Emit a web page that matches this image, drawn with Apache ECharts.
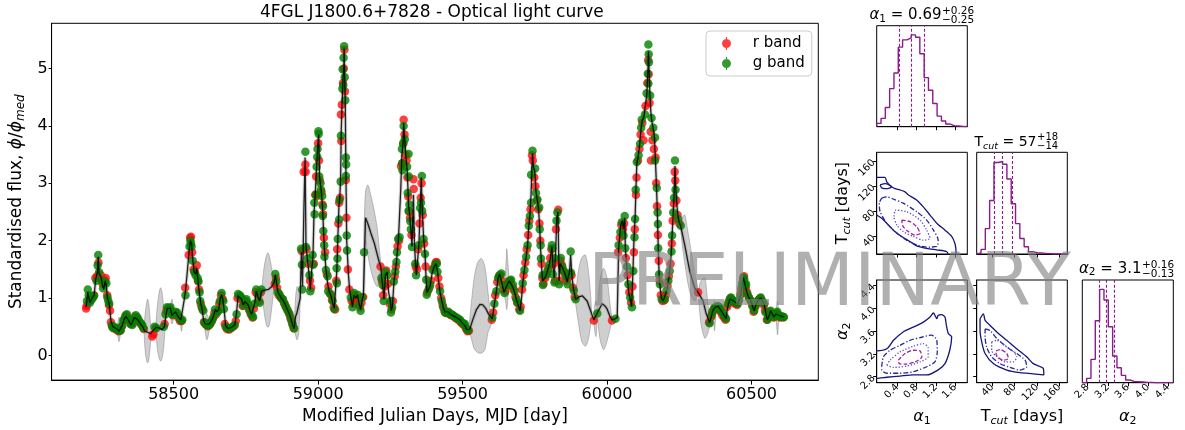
<!DOCTYPE html>
<html><head><meta charset="utf-8">
<script src="https://cdn.jsdelivr.net/npm/echarts@6/dist/echarts.min.js"></script>
<style>html,body{margin:0;padding:0;background:#fff}#c{width:1185px;height:430px}</style>
</head><body><div id="c"></div>
<script>
// ---------------- DATA ----------------
const xTicks = [58500, 59000, 59500, 60000, 60500];
const yTicks = [0, 1, 2, 3, 4, 5];

// r band observations [MJD, flux/median]
const rBand = [[58197,0.82],[58199,0.86],[58208,0.95],[58216,0.98],[58224,1.05],[58229,1.35],[58235,1.38],[58240,1.62],[58248,1.40],[58254,1.25],[58260,1.32],[58265,1.35],[58270,1.05],[58276,0.88],[58280,0.78],[58283,0.58],[58288,0.50],[58296,0.47],[58302,0.45],[58309,0.42],[58315,0.43],[58320,0.50],[58328,0.62],[58335,0.70],[58344,0.62],[58350,0.55],[58359,0.56],[58366,0.68],[58373,0.65],[58382,0.58],[58389,0.53],[58397,0.46],[58426,0.33],[58430,0.37],[58437,0.47],[58469,0.55],[58475,0.78],[58480,0.82],[58487,0.80],[58497,0.70],[58504,0.74],[58510,0.72],[58516,0.66],[58522,0.60],[58528,0.60],[58540,1.18],[58552,1.75],[58557,2.05],[58560,2.07],[58564,1.80],[58569,1.50],[58574,1.45],[58580,1.57],[58584,1.30],[58588,1.15],[58594,0.90],[58600,0.80],[58605,0.58],[58612,0.54],[58618,0.51],[58624,0.53],[58630,0.58],[58636,0.64],[58641,0.74],[58647,0.72],[58653,0.77],[58658,0.90],[58664,1.05],[58670,0.98],[58677,0.55],[58684,0.46],[58692,0.45],[58700,0.48],[58708,0.51],[58715,0.60],[58721,1.00],[58727,1.03],[58733,0.98],[58739,0.86],[58744,0.92],[58750,0.95],[58756,0.88],[58761,0.80],[58767,0.72],[58773,0.66],[58778,0.82],[58784,1.10],[58790,1.07],[58796,0.95],[58802,1.10],[58850,1.25],[58854,1.35],[58858,1.18],[58864,1.05],[58870,1.02],[58876,0.98],[58882,0.92],[58887,0.86],[58893,0.80],[58899,0.74],[58904,0.66],[58910,0.56],[58915,0.48],
[58943,1.82],[58950,3.20],[58956,3.33],[58957,3.20],[58960,1.85],[58966,1.60],[58972,1.30],[58976,1.18],[58985,1.60],[58990,2.80],[58993,3.12],[58996,2.78],[59000,3.70],[59003,3.40],[59006,3.05],[59012,2.85],[59015,2.63],[59017,2.46],[59020,2.05],[59024,1.80],[59030,1.42],[59036,1.20],[59041,1.08],[59048,0.97],[59054,0.84],[59059,0.80],[59063,1.30],[59066,1.85],[59070,2.30],[59073,2.66],[59076,2.75],[59079,4.20],[59080,3.74],[59082,4.37],[59086,4.75],[59089,5.00],[59091,5.33],[59093,4.60],[59096,3.06],[59098,2.40],[59103,1.50],[59108,1.15],[59116,0.95],[59122,0.90],[59127,1.05],[59133,1.02],[59139,0.98],[59145,0.84],[59150,0.92],[59156,1.02],
[59216,1.55],[59221,1.30],[59225,1.05],[59230,1.20],[59236,1.48],[59242,1.25],[59248,0.90],[59254,0.80],[59259,0.95],[59265,1.38],[59269,1.55],[59275,1.90],[59280,2.00],[59287,3.30],[59292,3.35],[59295,3.70],[59296,4.11],[59299,3.85],[59303,3.50],[59306,3.40],[59309,3.10],[59312,2.77],[59315,2.51],[59318,2.40],[59323,2.10],[59330,3.07],[59331,2.90],[59338,1.55],[59342,1.50],[59346,1.85],[59351,2.30],[59355,2.75],[59358,3.00],[59362,2.45],[59367,1.95],[59372,1.55],[59378,1.10],[59385,1.18],[59391,1.30],[59399,1.52],[59407,1.62],[59410,1.63],[59416,1.35],[59420,1.20],[59426,1.00],[59431,0.88],[59437,0.78],[59443,0.74],[59449,0.75],[59455,0.73],[59460,0.70],[59466,0.70],[59471,0.68],[59477,0.65],[59483,0.63],[59489,0.61],[59494,0.58],[59500,0.55],[59506,0.52],[59512,0.47],[59517,0.42],[59522,0.43],
[59601,0.62],[59606,0.75],[59613,1.05],[59620,1.28],[59626,1.38],[59631,1.40],[59636,1.30],[59641,1.15],[59648,1.12],[59654,1.25],[59660,1.28],[59665,1.30],[59671,1.20],[59677,1.15],[59683,1.02],[59689,0.92],[59696,0.80],[59701,0.85],[59706,1.15],[59711,1.40],[59717,1.62],[59722,1.85],[59727,2.10],[59731,2.35],[59735,2.55],[59740,3.49],[59743,3.40],[59748,3.10],[59752,2.95],[59757,2.70],[59762,2.55],[59766,2.30],[59769,2.00],[59773,1.60],[59776,1.35],[59780,1.25],[59786,1.35],[59791,1.42],[59797,1.52],[59803,1.70],[59807,1.85],
[59815,1.60],[59820,1.30],[59823,2.20],[59831,2.54],[59836,1.30],[59838,1.65],[59843,1.58],[59848,1.48],[59854,1.43],[59860,1.30],[59864,1.35],[59869,1.42],[59877,1.40],[59882,1.18],[59888,1.02],[59954,0.61],[60017,0.61],[60038,1.80],[60044,2.05],[60049,2.28],[60055,2.20],[60059,2.30],[60065,1.70],[60071,1.40],[60077,1.10],[60083,0.92],[60088,1.20],[60093,1.80],[60096,2.20],[60100,2.80],[60102,3.10],[60107,3.40],[60112,3.60],[60116,3.85],[60122,4.05],[60126,3.75],[60133,4.35],[60139,4.75],[60142,5.15],[60144,4.90],[60147,4.40],[60151,3.90],[60152,3.40],[60157,3.75],[60162,3.60],[60168,3.45],[60170,3.00],[60173,2.60],[60176,2.10],[60179,1.65],[60182,1.30],[60186,1.05],[60192,0.95],[60198,0.96],[60203,1.05],[60209,1.22],[60214,1.38],[60220,1.60],[60224,1.95],[60227,2.35],[60231,2.65],[60234,3.20],[60236,3.05],[60240,2.70],[60244,2.45],[60250,2.30],[60315,1.10],[60353,0.58],[60360,0.67],[60364,0.75],[60370,0.82],[60376,0.80],[60382,0.85],[60387,0.82],[60393,0.76],[60399,0.70],[60405,0.66],[60410,0.62],[60416,0.85],[60422,0.95],[60427,1.00],[60433,0.95],[60439,0.92],[60444,0.90],[60450,0.88],[60455,0.95],[60461,1.05],[60464,1.15],[60468,1.25],[60471,1.33],[60474,1.38],[60477,1.25],[60480,1.18],[60484,1.10],[60490,1.02],[60496,0.96],[60502,0.88],[60507,0.76],[60513,0.85],[60519,0.93],[60525,0.97],[60530,1.00],[60536,0.94],[60542,0.88],[60547,0.78],[60553,0.62],[60558,0.66],[60564,0.76],[60570,0.72],[60576,0.66],[60582,0.70],[60587,0.74],[60593,0.70],[60599,0.66],[60604,0.68],[60610,0.66]];

// g band observations [MJD, flux/median]
const gBand = [[58200,0.95],[58203,1.15],[58206,1.05],[58210,0.92],[58214,0.96],[58220,1.00],[58225,1.04],[58233,1.30],[58237,1.57],[58239,1.75],[58242,1.45],[58252,1.30],[58256,1.17],[58262,1.28],[58267,1.26],[58271,1.01],[58274,0.95],[58277,0.90],[58286,0.52],[58290,0.48],[58294,0.50],[58300,0.47],[58306,0.46],[58311,0.43],[58317,0.44],[58322,0.52],[58326,0.61],[58332,0.68],[58338,0.72],[58342,0.65],[58346,0.61],[58352,0.55],[58357,0.53],[58362,0.62],[58369,0.70],[58375,0.66],[58380,0.61],[58386,0.56],[58391,0.53],[58395,0.48],[58434,0.50],[58440,0.48],[58466,0.50],[58472,0.72],[58477,0.84],[58483,0.82],[58489,0.84],[58494,0.72],[58500,0.72],[58506,0.76],[58512,0.75],[58518,0.68],[58525,0.61],[58530,0.62],[58541,1.05],[58555,1.90],[58558,2.00],[58560,1.95],[58562,1.90],[58566,1.65],[58571,1.46],[58576,1.40],[58583,1.35],[58586,1.29],[58590,1.10],[58592,0.95],[58597,0.84],[58603,0.78],[58607,0.58],[58610,0.55],[58615,0.53],[58620,0.52],[58626,0.55],[58632,0.60],[58638,0.67],[58643,0.80],[58649,0.75],[58655,0.78],[58660,0.95],[58666,1.09],[58672,0.95],[58674,0.81],[58680,0.50],[58688,0.47],[58695,0.47],[58703,0.50],[58712,0.53],[58718,0.72],[58723,1.07],[58729,1.05],[58735,1.01],[58741,0.87],[58746,0.95],[58752,0.98],[58758,0.90],[58763,0.78],[58769,0.72],[58775,0.67],[58780,0.90],[58786,1.15],[58792,1.05],[58798,0.92],[58804,1.15],[58852,1.42],[58855,1.29],[58860,1.10],[58866,1.07],[58872,1.00],[58878,0.98],[58884,0.90],[58889,0.84],[58895,0.78],[58901,0.72],[58906,0.62],[58912,0.53],[58917,0.47],
[58941,1.86],[58945,1.15],[58944,1.58],[58956,3.55],[58958,1.89],[58964,1.69],[58970,1.40],[58973,1.12],[58981,1.75],[58983,1.58],[58987,2.66],[58988,2.46],[58992,2.80],[58995,3.29],[58997,3.46],[58998,3.60],[59001,3.91],[59002,3.86],[59004,3.12],[59008,3.00],[59010,2.89],[59014,2.78],[59016,2.43],[59017,2.60],[59018,2.17],[59021,1.92],[59022,1.72],[59027,1.49],[59033,1.38],[59035,1.12],[59044,1.06],[59050,0.95],[59056,0.81],[59064,1.52],[59065,1.26],[59067,1.69],[59068,2.03],[59073,2.37],[59074,2.71],[59078,3.03],[59079,3.83],[59084,4.65],[59085,4.99],[59087,4.71],[59088,5.19],[59090,5.39],[59092,4.85],[59094,4.45],[59096,3.45],[59097,3.33],[59096,3.13],[59099,2.09],[59100,1.83],[59113,1.01],[59119,0.84],[59124,1.09],[59136,1.06],[59142,0.89],[59147,0.78],[59153,1.01],[59159,1.80],
[59219,1.35],[59223,1.23],[59227,0.95],[59233,1.46],[59239,1.40],[59250,0.95],[59252,0.75],[59256,0.84],[59262,1.29],[59267,1.46],[59271,1.63],[59273,1.80],[59277,2.03],[59282,2.06],[59290,3.60],[59291,3.35],[59292,3.23],[59294,3.69],[59296,4.00],[59300,3.77],[59308,3.29],[59310,2.83],[59313,3.51],[59314,3.12],[59313,2.52],[59316,2.63],[59319,2.34],[59321,2.20],[59325,1.89],[59336,1.60],[59339,1.40],[59348,1.92],[59353,2.57],[59356,2.66],[59359,3.13],[59360,2.52],[59365,2.03],[59370,1.77],[59374,1.32],[59376,1.06],[59382,1.15],[59388,1.23],[59396,1.49],[59405,1.58],[59411,1.60],[59413,1.46],[59422,1.12],[59428,0.95],[59433,0.84],[59439,0.75],[59445,0.74],[59451,0.76],[59457,0.72],[59462,0.72],[59468,0.69],[59473,0.67],[59479,0.66],[59485,0.64],[59491,0.62],[59496,0.58],[59502,0.56],[59508,0.55],[59514,0.46],[59519,0.44],
[59603,0.66],[59610,0.90],[59617,1.12],[59623,1.35],[59628,1.40],[59634,1.43],[59639,1.23],[59645,1.09],[59657,1.23],[59662,1.30],[59668,1.32],[59674,1.23],[59680,1.12],[59686,0.98],[59691,0.92],[59699,0.78],[59708,1.26],[59714,1.49],[59720,1.72],[59725,1.92],[59729,2.26],[59733,2.43],[59737,2.66],[59737,3.15],[59742,3.57],[59751,3.26],[59754,2.83],[59759,2.72],[59765,2.58],[59767,2.20],[59770,1.92],[59771,1.69],[59777,1.40],[59778,1.23],[59788,1.40],[59794,1.48],[59800,1.58],[59809,1.92],
[59811,1.87],[59813,1.41],[59817,1.70],[59818,1.27],[59825,2.35],[59828,2.49],[59834,1.24],[59840,1.70],[59845,1.55],[59851,1.47],[59857,1.38],[59863,1.24],[59866,1.41],[59874,1.81],[59875,1.44],[59885,1.13],[59891,0.98],[59966,0.73],[60029,0.64],[60040,1.92],[60046,2.15],[60051,2.32],[60057,2.09],[60061,2.43],[60063,1.87],[60069,1.55],[60074,1.24],[60080,1.01],[60086,0.84],[60091,1.47],[60095,2.06],[60097,2.38],[60099,2.89],[60103,3.37],[60109,3.49],[60114,3.69],[60118,3.97],[60120,4.11],[60131,4.20],[60137,4.57],[60141,4.91],[60143,5.42],[60144,5.25],[60145,5.11],[60143,4.74],[60149,4.53],[60154,4.14],[60160,3.97],[60166,3.80],[60166,3.40],[60172,2.92],[60175,2.49],[60176,2.29],[60177,1.87],[60180,1.41],[60183,1.24],[60189,0.98],[60200,0.98],[60206,1.13],[60212,1.30],[60217,1.47],[60223,1.81],[60225,2.09],[60229,2.49],[60232,2.75],[60235,3.40],[60237,2.89],[60246,2.38],[60255,2.26],[60355,0.56],[60362,0.70],[60366,0.78],[60372,0.83],[60378,0.84],[60384,0.86],[60389,0.84],[60395,0.78],[60401,0.73],[60407,0.68],[60412,0.64],[60418,0.90],[60425,0.98],[60429,1.01],[60435,0.96],[60441,0.95],[60446,0.92],[60452,0.90],[60457,0.97],[60463,1.07],[60466,1.20],[60469,1.27],[60472,1.36],[60475,1.32],[60478,1.22],[60481,1.24],[60486,1.07],[60492,1.00],[60498,0.95],[60504,0.85],[60509,0.78],[60515,0.88],[60521,0.95],[60527,0.98],[60532,1.01],[60538,0.95],[60544,0.90],[60549,0.75],[60555,0.62],[60560,0.68],[60566,0.78],[60572,0.72],[60578,0.67],[60584,0.72],[60589,0.76],[60595,0.70],[60601,0.67],[60606,0.68],[60612,0.67]];

// GP mean curve [MJD, flux]
const gpCurve = [[58197,0.84],[58203,1.10],[58210,0.92],[58218,1.00],[58225,1.05],[58230,1.32],[58236,1.45],[58239,1.72],[58242,1.42],[58248,1.38],[58254,1.22],[58258,1.15],[58263,1.30],[58267,1.22],[58271,1.00],[58277,0.90],[58280,0.76],[58283,0.60],[58290,0.50],[58297,0.48],[58304,0.46],[58311,0.42],[58317,0.45],[58322,0.52],[58328,0.62],[58334,0.68],[58338,0.70],[58343,0.62],[58348,0.57],[58353,0.53],[58358,0.55],[58364,0.66],[58369,0.68],[58375,0.63],[58381,0.58],[58387,0.55],[58393,0.50],[58399,0.43],[58405,0.41],[58412,0.40],[58420,0.38],[58426,0.36],[58432,0.45],[58440,0.49],[58450,0.48],[58460,0.45],[58468,0.50],[58474,0.72],[58478,0.82],[58483,0.80],[58489,0.82],[58494,0.70],[58500,0.72],[58506,0.76],[58512,0.74],[58518,0.66],[58525,0.62],[58530,0.65],[58536,0.95],[58541,1.12],[58548,1.50],[58554,1.85],[58558,2.00],[58562,1.95],[58566,1.68],[58571,1.46],[58576,1.42],[58580,1.52],[58584,1.30],[58590,1.05],[58594,0.90],[58599,0.80],[58604,0.60],[58610,0.55],[58616,0.52],[58622,0.54],[58628,0.58],[58634,0.63],[58640,0.72],[58645,0.80],[58650,0.76],[58656,0.80],[58661,0.98],[58666,1.06],[58671,0.95],[58675,0.78],[58680,0.52],[58688,0.47],[58696,0.48],[58704,0.50],[58712,0.54],[58718,0.75],[58723,1.04],[58729,1.02],[58735,0.98],[58741,0.88],[58746,0.94],[58752,0.96],[58758,0.88],[58764,0.78],[58770,0.72],[58776,0.70],[58781,0.92],[58786,1.12],[58792,1.02],[58798,0.95],[58804,1.12],[58815,1.14],[58828,1.15],[58840,1.20],[58848,1.28],[58852,1.40],[58856,1.26],[58861,1.10],[58867,1.05],[58873,1.00],[58879,0.96],[58885,0.90],[58890,0.84],[58896,0.77],[58902,0.70],[58907,0.62],[58912,0.53],[58917,0.47],[58922,0.68],[58926,0.73],[58932,0.70],[58938,1.00],[58942,1.80],[58946,1.20],[58951,2.60],[58955,3.45],[58958,1.90],[58963,1.68],[58968,1.45],[58973,1.15],[58978,1.50],[58982,1.70],[58986,2.50],[58990,2.80],[58995,3.30],[59000,3.75],[59002,3.85],[59005,3.10],[59009,2.95],[59013,2.75],[59016,2.50],[59019,2.15],[59022,1.85],[59027,1.50],[59033,1.25],[59039,1.10],[59044,1.05],[59050,0.92],[59056,0.82],[59061,1.20],[59065,1.50],[59068,2.00],[59072,2.60],[59075,2.75],[59078,3.10],[59080,3.90],[59083,4.40],[59086,4.80],[59089,5.05],[59090,5.35],[59092,4.85],[59094,4.40],[59096,3.30],[59099,2.00],[59105,1.40],[59110,1.10],[59114,1.00],[59119,0.85],[59124,1.05],[59130,1.00],[59136,1.05],[59142,0.90],[59147,0.80],[59153,0.98],[59157,1.05],[59164,2.40],[59172,2.30],[59182,2.14],[59195,1.95],[59205,1.75],[59212,1.62],[59217,1.55],[59220,1.35],[59224,1.20],[59228,0.98],[59233,1.40],[59239,1.45],[59244,1.10],[59250,0.95],[59253,0.78],[59257,0.85],[59262,1.25],[59267,1.45],[59271,1.62],[59274,1.80],[59278,2.02],[59282,2.05],[59286,2.90],[59290,3.50],[59294,3.70],[59296,4.05],[59300,3.75],[59304,3.45],[59308,3.25],[59311,2.90],[59313,2.60],[59317,2.45],[59320,2.25],[59325,1.90],[59330,2.80],[59333,2.00],[59337,1.60],[59340,1.40],[59345,1.70],[59349,1.95],[59353,2.55],[59357,3.10],[59360,2.60],[59365,2.05],[59370,1.77],[59374,1.30],[59377,1.10],[59382,1.15],[59388,1.22],[59395,1.45],[59402,1.55],[59408,1.60],[59413,1.48],[59418,1.25],[59422,1.10],[59428,0.95],[59433,0.84],[59439,0.76],[59445,0.74],[59451,0.76],[59457,0.72],[59462,0.73],[59468,0.69],[59473,0.67],[59479,0.66],[59485,0.63],[59491,0.62],[59496,0.58],[59502,0.56],[59508,0.52],[59514,0.45],[59519,0.44],[59525,0.46],[59535,0.62],[59548,0.80],[59560,0.89],[59570,0.88],[59580,0.82],[59590,0.72],[59603,0.64],[59610,0.90],[59617,1.12],[59623,1.35],[59628,1.42],[59633,1.40],[59638,1.22],[59643,1.10],[59650,1.18],[59657,1.26],[59662,1.30],[59668,1.28],[59673,1.20],[59680,1.10],[59686,0.98],[59691,0.90],[59699,0.78],[59704,1.00],[59708,1.25],[59714,1.50],[59720,1.72],[59725,1.92],[59729,2.25],[59733,2.45],[59737,2.80],[59740,3.30],[59742,3.52],[59745,3.30],[59750,3.20],[59754,2.85],[59759,2.70],[59763,2.55],[59767,2.20],[59770,1.85],[59774,1.50],[59777,1.30],[59782,1.28],[59788,1.38],[59794,1.48],[59800,1.58],[59805,1.75],[59809,1.90],[59813,1.55],[59817,1.35],[59822,1.80],[59826,2.40],[59830,2.50],[59834,1.30],[59838,1.60],[59842,1.62],[59847,1.52],[59852,1.45],[59857,1.38],[59862,1.28],[59866,1.38],[59870,1.45],[59874,1.75],[59878,1.40],[59884,1.15],[59891,0.98],[59902,1.02],[59914,1.04],[59931,0.95],[59943,0.78],[59954,0.62],[59960,0.68],[59966,0.74],[59971,0.79],[59983,0.90],[59993,0.86],[60000,0.81],[60010,0.68],[60017,0.62],[60024,0.63],[60029,0.64],[60035,0.66],[60040,1.85],[60044,2.10],[60048,2.28],[60053,2.35],[60057,2.20],[60061,2.40],[60063,1.90],[60067,1.60],[60071,1.30],[60075,1.10],[60080,0.98],[60085,0.85],[60089,1.40],[60093,2.00],[60097,2.40],[60100,2.90],[60103,3.35],[60107,3.45],[60111,3.60],[60115,3.80],[60118,3.97],[60122,4.10],[60127,4.15],[60131,4.18],[60135,4.45],[60138,4.60],[60141,4.90],[60143,5.30],[60145,5.05],[60148,4.55],[60152,4.20],[60156,4.05],[60160,3.95],[60164,3.80],[60167,3.45],[60171,2.95],[60174,2.50],[60177,1.90],[60180,1.42],[60183,1.22],[60188,1.00],[60194,0.95],[60200,0.98],[60206,1.12],[60212,1.30],[60217,1.48],[60222,1.78],[60225,2.10],[60229,2.50],[60232,2.80],[60235,3.30],[60238,2.90],[60242,2.60],[60246,2.40],[60251,2.30],[60255,2.25],[60269,1.92],[60286,1.47],[60303,1.18],[60315,1.10],[60332,0.95],[60343,0.73],[60355,0.57],[60362,0.70],[60366,0.78],[60372,0.83],[60378,0.84],[60384,0.86],[60389,0.84],[60395,0.78],[60401,0.73],[60407,0.68],[60412,0.64],[60416,0.80],[60420,0.90],[60425,0.98],[60429,1.01],[60435,0.96],[60441,0.94],[60446,0.92],[60452,0.88],[60457,0.97],[60463,1.07],[60466,1.20],[60469,1.28],[60472,1.35],[60475,1.30],[60478,1.22],[60481,1.20],[60486,1.06],[60492,1.00],[60498,0.95],[60504,0.85],[60509,0.78],[60515,0.88],[60521,0.95],[60527,0.98],[60532,1.00],[60538,0.95],[60544,0.88],[60549,0.75],[60555,0.62],[60560,0.68],[60566,0.78],[60572,0.72],[60578,0.67],[60584,0.72],[60589,0.75],[60595,0.70],[60601,0.67],[60606,0.68],[60612,0.67]];

// GP uncertainty band in observing gaps: [MJD, lower, upper]
const gpBands = [
 [[58302,0.45,0.47],[58307,0.34,0.58],[58311,0.24,0.67],[58315,0.34,0.58],[58319,0.46,0.50]],
 [[58397,0.45,0.48],[58402,0.05,0.75],[58407,-0.10,0.93],[58410,-0.13,0.98],[58414,-0.08,0.90],[58418,0.10,0.68],[58422,0.33,0.40]],
 [[58438,0.46,0.50],[58444,0.10,0.88],[58450,-0.05,1.10],[58455,-0.10,1.18],[58460,-0.05,1.10],[58466,0.15,0.85],[58472,0.62,0.78]],
 [[58488,0.80,0.85],[58492,0.58,0.95],[58495,0.55,0.98],[58499,0.65,0.80]],
 [[58523,0.60,0.63],[58527,0.42,0.72],[58531,0.58,0.70]],
 [[58605,0.56,0.60],[58611,0.35,0.68],[58615,0.27,0.72],[58620,0.35,0.66],[58626,0.53,0.57]],
 [[58805,1.10,1.16],[58812,0.80,1.50],[58820,0.55,1.72],[58826,0.49,1.79],[58832,0.55,1.72],[58840,0.85,1.50],[58848,1.22,1.32]],
 [[58917,0.45,0.50],[58922,0.35,1.00],[58927,0.27,1.20],[58932,0.35,1.12],[58937,0.80,1.10]],
 [[59156,0.98,1.10],[59160,1.50,2.30],[59164,2.00,2.85],[59172,1.75,2.97],[59182,1.50,2.80],[59195,1.28,2.50],[59205,1.20,2.20],[59212,1.35,1.85],[59217,1.50,1.60]],
 [[59522,0.43,0.48],[59530,0.30,0.90],[59540,0.12,1.35],[59552,0.05,1.62],[59565,0.04,1.69],[59577,0.10,1.55],[59588,0.40,1.10],[59596,0.50,0.78],[59603,0.60,0.67]],
 [[59645,1.05,1.12],[59650,0.90,1.60],[59653,0.80,1.86],[59657,1.00,1.60],[59661,1.25,1.32]],
 [[59890,0.95,1.00],[59900,0.60,1.45],[59912,0.25,1.70],[59925,0.16,1.75],[59936,0.30,1.45],[59945,0.65,0.90]],
 [[59954,0.60,0.63],[59958,0.40,0.90],[59962,0.33,0.95],[59966,0.70,0.76]],
 [[59966,0.72,0.76],[59975,0.30,1.30],[59988,0.10,1.52],[60000,0.25,1.35],[60010,0.45,0.90],[60017,0.60,0.64]],
 [[60255,2.20,2.30],[60262,1.85,2.42],[60269,1.60,2.45],[60280,1.25,2.15],[60290,1.05,1.85],[60303,0.95,1.45],[60315,1.05,1.15]],
 [[60316,1.05,1.12],[60325,0.55,1.30],[60338,0.30,1.35],[60346,0.35,1.05],[60355,0.52,0.60]],
 [[60365,0.75,0.80],[60370,0.55,0.92],[60372,0.43,0.95],[60376,0.70,0.88]],
 [[60584,0.70,0.74],[60588,0.45,0.90],[60590,0.36,0.95],[60593,0.55,0.80]]
];

// Corner plot: parameter ranges, ticks, histograms, quantiles, contours
const a1Range = [-0.03, 1.855], tcRange = [12, 174], a2Range = [2.694, 4.5];
const a1Ticks = [0.4, 0.8, 1.2, 1.6], tcTicks = [40, 80, 120, 160], a2Ticks = [2.8, 3.2, 3.6, 4.0, 4.4];
const a1Counts = [10,25,58,115,162,240,262,268,277,270,220,148,110,70,32,17,8,3,2,1,0];
const tcCounts = [3,14,77,162,277,280,272,227,152,92,47,22,7,4,3,2,1,0,0,0,0];
const a2Counts = [0,13,70,186,280,248,168,80,45,22,8,4,3,2,1,1,0,0,0,0,0];
const a1Quant = [0.44, 0.69, 0.95], tcQuant = [43, 57, 75], a2Quant = [3.03, 3.16, 3.32];

const c10Solid = [[-0.1,134],[-0.03,134],[0.143,134],[0.18,127],[0.28,119],[0.35,116],[0.455,114],[0.56,111],[0.63,106],[0.80,98],[0.94,87],[1.08,74],[1.22,61],[1.39,50],[1.53,40],[1.60,28],[1.62,15],[1.62,4],[1.45,4],[1.45,12],[1.42,16],[1.22,18.5],[1.01,21],[0.80,25],[0.66,32],[0.49,40],[0.316,50],[0.18,61],[0.074,69],[-0.03,74],[-0.1,78]];
const c10Island = [[0.04,122],[0.15,124],[0.28,119],[0.2,116],[0.08,117],[0.04,122]];
const c10DashDot = [[0.074,101],[0.18,103],[0.30,100],[0.52,93],[0.80,79.5],[1.01,66],[1.15,50],[1.25,34],[1.22,24],[1.01,23],[0.80,26.5],[0.59,34],[0.39,45],[0.18,61],[0.04,79.5],[0.025,93],[0.074,101]];
const c10Dotted = [[0.35,82],[0.59,79.5],[0.87,66],[1.01,50],[1.08,37],[0.94,34],[0.73,40],[0.52,47.7],[0.39,58],[0.33,71.6],[0.35,82]];
const c10Dashed = [[0.49,66],[0.66,63.6],[0.80,55.6],[0.87,45],[0.77,42],[0.63,47.7],[0.52,55.6],[0.49,66]];

const c20Solid = [[-0.1,3.254],[-0.03,3.254],[0.18,3.29],[0.32,3.44],[0.52,3.587],[0.73,3.67],[0.94,3.76],[1.08,3.85],[1.15,3.92],[1.22,3.82],[1.25,3.88],[1.32,3.89],[1.39,3.85],[1.42,3.70],[1.46,3.56],[1.53,3.50],[1.49,3.265],[1.39,3.03],[1.25,2.92],[1.01,2.83],[0.73,2.83],[0.455,2.81],[0.18,2.79],[-0.03,2.77],[-0.1,2.77]];
const c20DashDot = [[0.074,2.975],[0.11,3.15],[0.25,3.265],[0.455,3.35],[0.66,3.44],[0.87,3.487],[1.11,3.53],[1.22,3.44],[1.23,3.236],[1.18,3.06],[1.01,2.975],[0.73,2.887],[0.455,2.86],[0.18,2.86],[0.074,2.92],[0.074,2.975]];
const c20Dotted = [[0.18,3.003],[0.25,3.09],[0.455,3.236],[0.73,3.335],[0.94,3.38],[1.04,3.31],[1.04,3.149],[0.87,3.06],[0.59,2.986],[0.32,2.963],[0.18,3.003]];
const c20Dashed = [[0.42,3.09],[0.56,3.207],[0.73,3.265],[0.87,3.254],[0.91,3.149],[0.77,3.06],[0.56,3.02],[0.44,3.03],[0.42,3.09]];

const c21Solid = [[18,3.82],[24,3.905],[27,3.79],[36,3.70],[48,3.587],[65.7,3.44],[83.6,3.29],[101.4,3.149],[113,3.03],[131,2.945],[132,2.83],[113,2.85],[89.5,2.87],[65.7,2.916],[41.8,3.03],[27,3.207],[21,3.41],[18,3.61],[18,3.82]];
const c21DashDot = [[27,3.64],[36,3.61],[48,3.47],[65.7,3.32],[83.6,3.207],[98.5,3.09],[101.4,2.975],[89.5,2.916],[71.6,2.963],[53.7,3.03],[38.8,3.149],[29.9,3.32],[27,3.50],[27,3.64]];
const c21Dotted = [[38.8,3.41],[48,3.44],[62.7,3.35],[77.6,3.236],[83.6,3.149],[77.6,3.06],[62.7,3.06],[48,3.149],[38.8,3.265],[38.8,3.41]];
const c21Dashed = [[46.6,3.254],[53.7,3.277],[65.7,3.207],[68.6,3.12],[59.7,3.09],[50.8,3.137],[46.6,3.195],[46.6,3.254]];

// ---------------- CHART ----------------
const FF = 'DejaVu Sans';
const chart = echarts.init(document.getElementById('c'), null, {renderer: 'canvas'});

function histLine(range, counts) {
  const w = (range[1] - range[0]) / counts.length;
  const d = [[range[0], 0]];
  counts.forEach((c, i) => d.push([range[0] + i * w, c]));
  d.push([range[1], counts[counts.length - 1]]);
  d.push([range[1], 0]);
  return d;
}
const nameRich = {
  n: {fontSize: 16, fontFamily: FF, color: '#000', lineHeight: 20},
  i: {fontSize: 16, fontFamily: FF, fontStyle: 'italic', color: '#000', lineHeight: 20},
  s: {fontSize: 11, fontFamily: FF, fontStyle: 'italic', color: '#000', lineHeight: 11, verticalAlign: 'bottom'},
  d: {fontSize: 11, fontFamily: FF, color: '#000', lineHeight: 11, verticalAlign: 'bottom'}
};
function mkTitleRich(fs, ss) {
  return {
    n: {fontSize: fs, fontFamily: FF, color: '#000', lineHeight: 18},
    i: {fontSize: fs, fontFamily: FF, fontStyle: 'italic', color: '#000', lineHeight: 18},
    s: {fontSize: ss, fontFamily: FF, fontStyle: 'italic', color: '#000', lineHeight: 10, verticalAlign: 'bottom'},
    d: {fontSize: ss, fontFamily: FF, color: '#000', lineHeight: 10, verticalAlign: 'bottom'}
  };
}
const titleRich = mkTitleRich(15, 10.5), titleRichT = mkTitleRich(14, 9.5);
function cAx(grid, range, ticks, showLabel, fmt, name, nameGap, showTick) {
  return {
    type: 'value', gridIndex: grid, min: range[0], max: range[1],
    axisLine: {show: true, onZero: false, lineStyle: {color: '#000', width: 1}},
    axisTick: {show: showTick !== false, customValues: ticks, length: 3.5, lineStyle: {color: '#000'}},
    axisLabel: {show: showLabel, customValues: ticks, rotate: 45, fontSize: 10, color: '#000', margin: 3, fontFamily: FF, formatter: fmt},
    splitLine: {show: false},
    name: name || '', nameLocation: 'middle', nameGap: nameGap || 0,
    nameTextStyle: {rich: nameRich}
  };
}
const f1 = v => Number(v).toFixed(1);
const f0 = v => String(Math.round(v));
const hidY = (grid, counts) => ({type: 'value', gridIndex: grid, min: 0, max: 1.1 * Math.max(...counts), show: false});

const gridBase = {show: true, borderColor: '#000', borderWidth: 1, containLabel: false};
const grids = [
  Object.assign({left: 45.3, top: 23.3, width: 773, height: 364}, gridBase),
  Object.assign({left: 876.7, top: 25.7, width: 90.6, height: 101}, gridBase),
  Object.assign({left: 876.7, top: 152.3, width: 90.6, height: 101.7}, gridBase),
  Object.assign({left: 976.7, top: 152.3, width: 90.6, height: 101.7}, gridBase),
  Object.assign({left: 876.7, top: 280, width: 90.6, height: 102.7}, gridBase),
  Object.assign({left: 976.7, top: 280, width: 90.6, height: 102.7}, gridBase),
  Object.assign({left: 1082.3, top: 280, width: 91, height: 102.7}, gridBase)
];

const xAxes = [
  {type: 'value', gridIndex: 0, min: 58077.6, max: 60731,
   axisLine: {onZero: false, lineStyle: {color: '#000'}},
   axisTick: {customValues: xTicks, length: 4.5, lineStyle: {color: '#000'}},
   axisLabel: {customValues: xTicks, fontSize: 16, color: '#000', margin: 7, fontFamily: FF, formatter: v => String(v)},
   splitLine: {show: false},
   name: 'Modified Julian Days, MJD [day]', nameLocation: 'middle', nameGap: 27,
   nameTextStyle: {fontSize: 17, color: '#000', fontFamily: FF}},
  cAx(1, a1Range, a1Ticks, false, f1),
  cAx(2, a1Range, a1Ticks, false, f1),
  cAx(3, tcRange, tcTicks, false, f0),
  cAx(4, a1Range, a1Ticks, true, f1, '{i|α}{d|1}', 24),
  cAx(5, tcRange, tcTicks, true, f0, '{n|T}{s|cut}{n| [days]}', 24),
  cAx(6, a2Range, a2Ticks, true, f1, '{i|α}{d|2}', 24)
];
const yAxes = [
  {type: 'value', gridIndex: 0, min: -0.43, max: 5.79,
   axisLine: {onZero: false, lineStyle: {color: '#000'}},
   axisTick: {customValues: yTicks, length: 3, lineStyle: {color: '#000'}},
   axisLabel: {customValues: yTicks, fontSize: 16, color: '#000', margin: 4, fontFamily: FF, formatter: v => String(v)},
   splitLine: {show: false},
   name: '{n|Standardised flux, }{i|ϕ}{n|/}{i|ϕ}{s|med}', nameLocation: 'middle', nameGap: 16,
   nameTextStyle: {rich: {
     n: {fontSize: 17, fontFamily: FF, color: '#000', lineHeight: 20},
     i: {fontSize: 17, fontFamily: FF, fontStyle: 'italic', color: '#000', lineHeight: 20},
     s: {fontSize: 12, fontFamily: FF, fontStyle: 'italic', color: '#000', lineHeight: 12, verticalAlign: 'bottom'}}}},
  hidY(1, a1Counts),
  cAx(2, tcRange, tcTicks, true, f0, '{n|T}{s|cut}{n| [days]}', 24),
  hidY(3, tcCounts),
  cAx(4, a2Range, a2Ticks, true, f1, '{i|α}{d|2}', 24),
  cAx(5, a2Range, a2Ticks, false, f1),
  hidY(6, a2Counts)
];

function contour(ax, data, color, type) {
  return {type: 'line', xAxisIndex: ax, yAxisIndex: ax, data: data, showSymbol: false, symbol: 'none',
    smooth: 0.25, silent: true, clip: true, z: 3,
    lineStyle: {color: color, width: 1.3, type: type}};
}
const C_SOLID = '#15157a', C_DD = '#2525a0', C_DOT = '#5a50cc', C_DASH = '#a0209f';
const DASHDOT = [5, 2, 1.2, 2], DOT = [1.3, 1.8], DASH = [4, 2];

function hist(ax, range, counts, quant) {
  return {type: 'line', xAxisIndex: ax, yAxisIndex: ax, data: histLine(range, counts), step: 'end',
    showSymbol: false, symbol: 'none', silent: true, z: 3,
    lineStyle: {color: '#8b1a8b', width: 1.4},
    markLine: {symbol: 'none', silent: true, label: {show: false}, animation: false,
      lineStyle: {type: [3, 2], color: '#8b1a8b', width: 1.1},
      data: quant.map(q => ({xAxis: q}))}};
}

// legend glyph: marker with error bar, plus an invisible point setting the gap before the text
const legendIcon = 'path://M4.4,0L5.6,0L5.6,2.3L4.4,2.3Z M4.4,10.7L5.6,10.7L5.6,13L4.4,13Z M5,2A4.5,4.5,0,1,1,5,11A4.5,4.5,0,1,1,5,2Z M25.95,6.5L26,6.5L26,6.55Z';

const option = {
  animation: false,
  backgroundColor: '#fff',
  textStyle: {fontFamily: FF},
  title: {text: '4FGL J1800.6+7828 - Optical light curve', left: 431.8, top: 13, textAlign: 'center', textVerticalAlign: 'middle', padding: 0,
    textStyle: {fontSize: 17, fontWeight: 'normal', color: '#000', fontFamily: FF}},
  legend: {data: ['r band', 'g band'], orient: 'vertical', left: 706, top: 31,
    itemWidth: 26, itemHeight: 13, itemGap: 5, padding: [5, 7, 5, 16], icon: legendIcon, symbolKeepAspect: true,
    backgroundColor: '#fff', borderColor: '#cccccc', borderWidth: 1, borderRadius: 4,
    textStyle: {fontSize: 15, color: '#000', fontFamily: FF}, selectedMode: false},
  grid: grids,
  xAxis: xAxes,
  yAxis: yAxes,
  graphic: [
    {type: 'text', x: 941.5, y: 15.5, z: 50, style: {text: '{i|α}{d|1}{n| = 0.69}', rich: titleRich, align: 'right', verticalAlign: 'middle'}},
    {type: 'text', x: 942, y: 15.5, z: 50, style: {text: '+0.26\n−0.25', fontSize: 10.5, lineHeight: 9, fontFamily: FF, fill: '#000', align: 'left', verticalAlign: 'middle'}},
    {type: 'text', x: 1036.5, y: 142.5, z: 50, style: {text: '{n|T}{s|cut}{n| = 57}', rich: titleRichT, align: 'right', verticalAlign: 'middle'}},
    {type: 'text', x: 1037, y: 142, z: 50, style: {text: '+18\n−14', fontSize: 10, lineHeight: 9, fontFamily: FF, fill: '#000', align: 'left', verticalAlign: 'middle'}},
    {type: 'text', x: 1141.5, y: 269, z: 50, style: {text: '{i|α}{d|2}{n| = 3.1}', rich: titleRich, align: 'right', verticalAlign: 'middle'}},
    {type: 'text', x: 1142, y: 270, z: 50, style: {text: '+0.16\n−0.13', fontSize: 10.5, lineHeight: 9, fontFamily: FF, fill: '#000', align: 'left', verticalAlign: 'middle'}},
    {type: 'text', x: 588, y: 286.5, z: 100, silent: true, style: {text: 'PRELIMINARY', fontSize: 73, fontFamily: FF, fill: 'rgba(128,128,128,0.62)', align: 'left', verticalAlign: 'middle'}}
  ],
  series: [
    {type: 'custom', xAxisIndex: 0, yAxisIndex: 0, silent: true, z: 1, clip: true,
     data: gpBands.map((b, i) => [b[0][0], b[0][1], i]),
     renderItem: function (params, api) {
       const b = gpBands[params.dataIndex];
       const up = b.map(p => api.coord([p[0], p[2]]));
       const lo = b.slice().reverse().map(p => api.coord([p[0], p[1]]));
       return {type: 'polygon', shape: {points: up.concat(lo), smooth: 0.3},
         style: {fill: 'rgba(128,128,128,0.38)', stroke: 'rgba(110,110,110,0.4)', lineWidth: 1}};
     }},
    {type: 'line', xAxisIndex: 0, yAxisIndex: 0, data: gpCurve, showSymbol: false, symbol: 'none', silent: true, z: 2,
     lineStyle: {color: 'rgba(128,128,128,0.35)', width: 3.5}},
    {name: 'r band', type: 'scatter', xAxisIndex: 0, yAxisIndex: 0, data: rBand, symbolSize: 8.5, z: 4, silent: true,
     itemStyle: {color: '#ff0000', opacity: 0.75}},
    {name: 'g band', type: 'scatter', xAxisIndex: 0, yAxisIndex: 0, data: gBand, symbolSize: 8.5, z: 5, silent: true,
     itemStyle: {color: '#008000', opacity: 0.8}},
    {type: 'line', xAxisIndex: 0, yAxisIndex: 0, data: gpCurve, showSymbol: false, symbol: 'none', silent: true, z: 6,
     lineStyle: {color: 'rgba(0,0,0,0.85)', width: 1.3}},
    hist(1, a1Range, a1Counts, a1Quant),
    hist(3, tcRange, tcCounts, tcQuant),
    hist(6, a2Range, a2Counts, a2Quant),
    contour(2, c10Solid, C_SOLID, 'solid'),
    contour(2, c10Island, C_SOLID, 'solid'),
    contour(2, c10DashDot, C_DD, DASHDOT),
    contour(2, c10Dotted, C_DOT, DOT),
    contour(2, c10Dashed, C_DASH, DASH),
    contour(4, c20Solid, C_SOLID, 'solid'),
    contour(4, c20DashDot, C_DD, DASHDOT),
    contour(4, c20Dotted, C_DOT, DOT),
    contour(4, c20Dashed, C_DASH, DASH),
    contour(5, c21Solid, C_SOLID, 'solid'),
    contour(5, c21DashDot, C_DD, DASHDOT),
    contour(5, c21Dotted, C_DOT, DOT),
    contour(5, c21Dashed, C_DASH, DASH)
  ]
};
chart.setOption(option);
</script></body></html>
